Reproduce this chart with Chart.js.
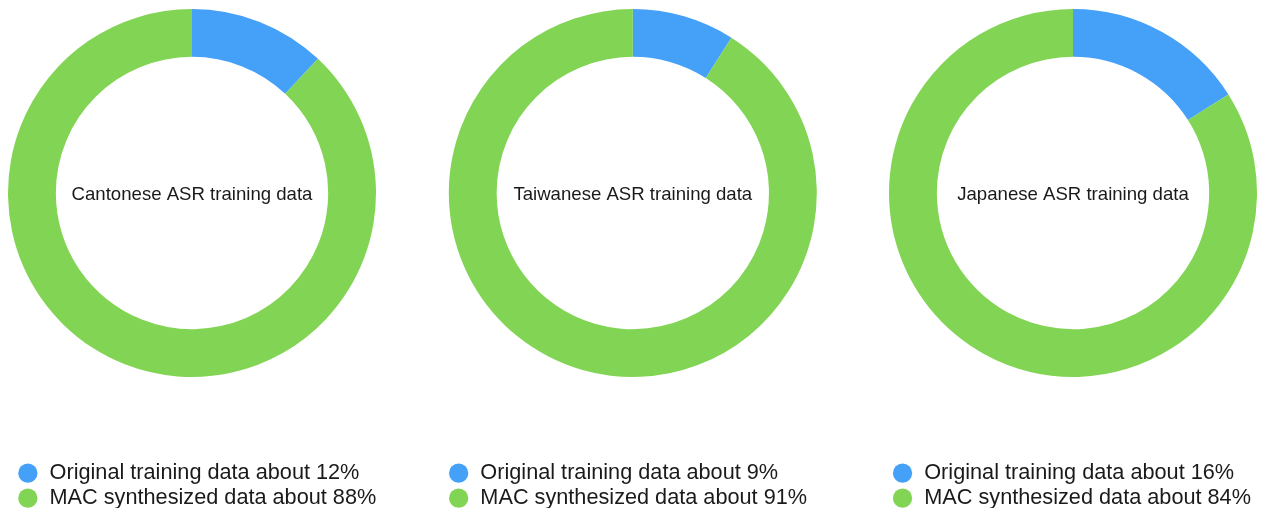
<!DOCTYPE html>
<html>
<head>
<meta charset="utf-8">
<script src="https://cdn.jsdelivr.net/npm/chart.js@4/dist/chart.umd.min.js"></script>
<style>
  html, body { margin: 0; padding: 0; background: #ffffff; width: 1269px; height: 508px; overflow: hidden; }
  canvas { position: absolute; top: 0; }
</style>
</head>
<body>
<canvas id="c0"></canvas>
<canvas id="c1"></canvas>
<canvas id="c2"></canvas>
<script>
// ---- data ----
const centerLabels = ['Cantonese ASR training data', 'Taiwanese ASR training data', 'Japanese ASR training data'];
const seriesNames = ['Original training data', 'MAC synthesized data'];
const originalShare = [12, 9, 16];
const synthesizedShare = [88, 91, 84];

// ---- style ----
const colors = ['#45a0f8', '#82d454'];
const FONT = "'Liberation Sans', Helvetica, Arial, sans-serif";
const TEXT = '#1a1a1a';
// per-panel canvas placement: [left, width, padLeft, rightSpacer]
const panels = [
  [0, 390, 13.7, 19.7],
  [430, 420, 14.5, 28.9],
  [875, 394, 13.4, 11.4]
];
const CANVAS_H = 519;

const centerTextPlugin = {
  id: 'centerText',
  afterDraw(chart, args, opts) {
    const arc = chart.getDatasetMeta(0).data[0];
    if (!arc) return;
    const ctx = chart.ctx;
    ctx.save();
    ctx.font = '18.6px ' + FONT;
    ctx.fillStyle = TEXT;
    ctx.textAlign = 'center';
    ctx.textBaseline = 'middle';
    ctx.fillText(opts.text, arc.x, arc.y + 1.5);
    ctx.restore();
  }
};

panels.forEach((p, i) => {
  const cv = document.getElementById('c' + i);
  cv.width = p[1];
  cv.height = CANVAS_H;
  cv.style.left = p[0] + 'px';
  cv.style.width = p[1] + 'px';
  cv.style.height = CANVAS_H + 'px';
  const values = [originalShare[i], synthesizedShare[i]];
  const labels = seriesNames.map((n, k) => n + ' about ' + values[k] + '%');
  new Chart(cv, {
    type: 'doughnut',
    data: {
      labels: labels,
      datasets: [{
        data: values,
        backgroundColor: colors,
        hoverBackgroundColor: colors,
        borderWidth: 0,
        clip: false
      }]
    },
    plugins: [centerTextPlugin],
    options: {
      responsive: false,
      animation: false,
      devicePixelRatio: 1,
      radius: 184,
      cutout: '74%',
      layout: { padding: { left: p[2], right: 0, top: 9, bottom: 0 } },
      plugins: {
        tooltip: { enabled: false },
        centerText: { text: centerLabels[i] },
        title: {
          display: true,
          position: 'right',
          text: '',
          font: { size: 10, lineHeight: 1 },
          padding: { top: p[3] - 10, bottom: 0 }
        },
        legend: {
          display: true,
          position: 'bottom',
          align: 'start',
          title: { display: true, text: '', font: { size: 10, lineHeight: 1 }, padding: { top: 72, bottom: 0 } },
          labels: {
            usePointStyle: true,
            pointStyle: 'circle',
            boxWidth: 22,
            boxHeight: 13.6,
            padding: 3.3,
            color: TEXT,
            font: { family: FONT, size: 21.7 }
          }
        }
      }
    }
  });
});
</script>
</body>
</html>
